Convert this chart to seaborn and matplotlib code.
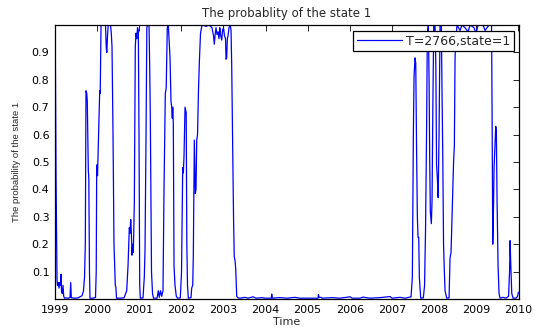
import matplotlib
matplotlib.use("Agg")
import matplotlib.pyplot as plt
import seaborn as sns
import pandas as pd

# ---- data (decimal year, probability of state 1) ----
t_a = [1999.005, 1999.024, 1999.048, 1999.059, 1999.076, 1999.095, 1999.112, 1999.126, 1999.143, 1999.154,
       1999.173, 1999.190, 1999.207, 1999.226, 1999.261, 1999.309, 1999.356, 1999.373, 1999.387, 1999.451,
       1999.546, 1999.594, 1999.641, 1999.677, 1999.701, 1999.720, 1999.736, 1999.755, 1999.767, 1999.779,
       1999.791, 1999.803, 1999.819, 1999.831, 1999.903, 1999.962, 1999.979, 1999.990, 1999.998]
p_a = [0.99, 0.45, 0.07, 0.05, 0.06, 0.04, 0.06, 0.05, 0.09, 0.03,
       0.02, 0.05, 0.01, 0.003, 0.004, 0.003, 0.005, 0.06, 0.005, 0.003,
       0.004, 0.008, 0.012, 0.03, 0.08, 0.2, 0.76, 0.75, 0.72, 0.60,
       0.47, 0.44, 0.10, 0.003, 0.003, 0.005, 0.1, 0.47, 0.49]

t_b = [2000.010, 2000.026, 2000.045, 2000.062, 2000.074, 2000.093, 2000.200, 2000.216, 2000.230, 2000.247,
       2000.264, 2000.318, 2000.337, 2000.354, 2000.378, 2000.401, 2000.418, 2000.432, 2000.444, 2000.461,
       2000.544, 2000.639, 2000.703, 2000.734, 2000.765, 2000.781, 2000.798, 2000.812, 2000.829, 2000.846,
       2000.860, 2000.884, 2000.907, 2000.924, 2000.941, 2000.960, 2000.979, 2000.995]
p_b = [0.45, 0.54, 0.66, 0.76, 0.75, 1.0, 1.0, 0.92, 0.90, 0.96,
       1.0, 1.0, 0.97, 0.92, 0.60, 0.20, 0.12, 0.05, 0.045, 0.003,
       0.003, 0.004, 0.03, 0.12, 0.26, 0.24, 0.29, 0.25, 0.16, 0.20,
       0.17, 0.35, 0.92, 0.97, 0.95, 0.99, 0.98, 0.6]

t_c = [2001.012, 2001.026, 2001.090, 2001.121, 2001.138, 2001.162, 2001.181, 2001.197, 2001.233, 2001.249,
       2001.264, 2001.276, 2001.292, 2001.316, 2001.340, 2001.423, 2001.454, 2001.477, 2001.506, 2001.534,
       2001.565, 2001.589, 2001.620, 2001.641, 2001.667, 2001.691, 2001.708, 2001.732, 2001.755, 2001.772,
       2001.786, 2001.796, 2001.810, 2001.827, 2001.850, 2001.881, 2001.910, 2001.976]
p_c = [0.05, 0.003, 0.004, 0.08, 0.18, 0.6, 0.99, 1.0, 1.0, 0.85,
       0.66, 0.4, 0.1, 0.02, 0.003, 0.003, 0.03, 0.006, 0.03, 0.01,
       0.03, 0.4, 0.75, 0.77, 0.99, 1.0, 0.95, 0.88, 0.72, 0.70,
       0.66, 0.70, 0.64, 0.12, 0.05, 0.01, 0.003, 0.004]

t_d = [2002.005, 2002.033, 2002.048, 2002.064, 2002.088, 2002.102, 2002.116, 2002.131, 2002.147, 2002.166,
       2002.230, 2002.247, 2002.271, 2002.285, 2002.309, 2002.333, 2002.349, 2002.366, 2002.385, 2002.409,
       2002.432, 2002.456, 2002.485, 2002.515, 2002.587, 2002.658, 2002.729, 2002.765, 2002.784, 2002.800,
       2002.824, 2002.848, 2002.872, 2002.895, 2002.914, 2002.931, 2002.960, 2002.979]
p_d = [0.1, 0.48, 0.46, 0.52, 0.70, 0.69, 0.68, 0.2, 0.05, 0.003,
       0.005, 0.04, 0.05, 0.16, 0.58, 0.385, 0.40, 0.58, 0.60, 0.77,
       0.88, 0.97, 0.995, 1.0, 0.995, 1.0, 0.99, 0.96, 0.93, 0.96,
       0.99, 0.965, 0.975, 0.95, 0.99, 0.965, 0.945, 0.98]

t_e = [2003.002, 2003.026, 2003.050, 2003.062, 2003.078, 2003.093, 2003.109, 2003.133, 2003.164, 2003.181,
       2003.197, 2003.216, 2003.240, 2003.257, 2003.276, 2003.292, 2003.316, 2003.347, 2003.394, 2003.513,
       2003.584, 2003.703, 2003.774, 2003.917, 2003.988, 2004.138, 2004.147, 2004.162, 2004.344, 2004.511,
       2004.701, 2004.819, 2005.247, 2005.257, 2005.271, 2005.318, 2005.342, 2005.580, 2005.770, 2006.007,
       2006.055, 2006.245, 2006.316, 2006.387, 2006.482, 2006.720, 2006.957, 2007.005, 2007.195, 2007.314,
       2007.456]
p_e = [0.99, 0.96, 0.95, 0.875, 0.88, 0.95, 0.96, 0.99, 1.0, 0.98,
       0.85, 0.6, 0.3, 0.155, 0.14, 0.11, 0.01, 0.004, 0.003, 0.006,
       0.003, 0.008, 0.003, 0.005, 0.003, 0.003, 0.018, 0.003, 0.005, 0.003,
       0.006, 0.003, 0.003, 0.016, 0.006, 0.006, 0.003, 0.005, 0.003, 0.008,
       0.003, 0.003, 0.007, 0.005, 0.003, 0.005, 0.009, 0.003, 0.006, 0.003,
       0.008]

t_f = [2007.487, 2007.511, 2007.527, 2007.551, 2007.568, 2007.587, 2007.606, 2007.622, 2007.639, 2007.653,
       2007.686, 2007.748, 2007.777, 2007.800, 2007.824, 2007.843, 2007.867, 2007.884, 2007.900, 2007.914,
       2007.938, 2007.955, 2007.974, 2007.995, 2008.026, 2008.045, 2008.062, 2008.081, 2008.100, 2008.121,
       2008.145, 2008.176, 2008.192, 2008.209, 2008.228, 2008.247, 2008.264, 2008.304, 2008.359, 2008.382,
       2008.406, 2008.430, 2008.466, 2008.485, 2008.501, 2008.525, 2008.549, 2008.620, 2008.667, 2008.739,
       2008.810, 2008.857, 2008.952, 2009.000, 2009.048, 2009.166, 2009.214, 2009.261, 2009.309, 2009.368,
       2009.380, 2009.397, 2009.416, 2009.428, 2009.447, 2009.468, 2009.482, 2009.499, 2009.523, 2009.546,
       2009.570, 2009.641, 2009.713, 2009.772, 2009.796, 2009.808, 2009.824, 2009.848, 2009.879, 2009.950,
       2009.986, 2010.005]
p_f = [0.08, 0.6, 0.81, 0.88, 0.86, 0.55, 0.30, 0.225, 0.225, 0.08,
       0.003, 0.004, 0.05, 0.25, 0.6, 0.97, 1.0, 0.8, 0.5, 0.32,
       0.275, 0.36, 0.7, 1.0, 1.0, 0.85, 0.49, 0.44, 0.37, 0.6,
       1.0, 1.0, 0.75, 0.53, 0.2, 0.1, 0.03, 0.003, 0.004, 0.15,
       0.17, 0.3, 0.5, 0.56, 0.88, 0.96, 1.0, 0.98, 1.0, 0.99,
       0.975, 1.0, 0.99, 0.97, 1.0, 1.0, 0.98, 0.99, 1.0, 1.0,
       0.7, 0.20, 0.35, 0.48, 0.55, 0.63, 0.61, 0.36, 0.12, 0.02,
       0.003, 0.006, 0.003, 0.01, 0.1, 0.213, 0.13, 0.02, 0.003, 0.003,
       0.01, 0.025]

year_ticks = list(range(1999, 2011))
prob_ticks = [0.1, 0.2, 0.3, 0.4, 0.5, 0.6, 0.7, 0.8, 0.9]
series_label = "T=2766,state=1"
title_text = "The probablity of the state 1"
ylabel_text = "The probability of the state 1"
xlabel_text = "Time"

years = t_a + t_b + t_c + t_d + t_e + t_f
probs = p_a + p_b + p_c + p_d + p_e + p_f
df = pd.DataFrame({"Time": years, "prob": probs})

sns.set_theme(style="white")
plt.rcParams['font.family'] = ['DejaVu Sans']

fig = plt.figure(figsize=(5.35, 3.31), dpi=100)
ax = fig.add_axes([55 / 535, 1 - 299 / 331, (519 - 55) / 535, (299 - 25) / 331])

sns.lineplot(data=df, x="Time", y="prob", ax=ax, color="#0000ff", linewidth=0.9,
             label=series_label, sort=False, estimator=None)

ax.set_xlim(1999, 2010.02)
ax.set_ylim(0, 1)
ax.set_xticks(year_ticks)
ax.set_xticklabels([str(y) for y in year_ticks])
ax.set_yticks(prob_ticks)
ax.set_yticklabels([f"{v:.1f}" for v in prob_ticks])
ax.tick_params(direction="in", top=True, right=True, length=4, width=0.6,
               labelsize=8, pad=4, colors="black")
for s in ax.spines.values():
    s.set_color("black")
    s.set_linewidth(0.9)

ax.set_title(title_text, fontsize=8.5, pad=6)
ax.set_xlabel(xlabel_text, fontsize=8, labelpad=1.5)
ax.set_ylabel(ylabel_text, fontsize=6.8, labelpad=8, family=["Liberation Sans"])

leg = ax.legend(loc="upper right", bbox_to_anchor=(0.989, 0.979), borderaxespad=0,
                frameon=True, fancybox=False, edgecolor="black", fontsize=9,
                handlelength=3.6, handletextpad=0.3, borderpad=0.3)
leg.get_frame().set_linewidth(0.9)
leg.get_frame().set_facecolor("white")
leg.get_frame().set_alpha(1)

fig.savefig("out.png", dpi=100, facecolor="white")
